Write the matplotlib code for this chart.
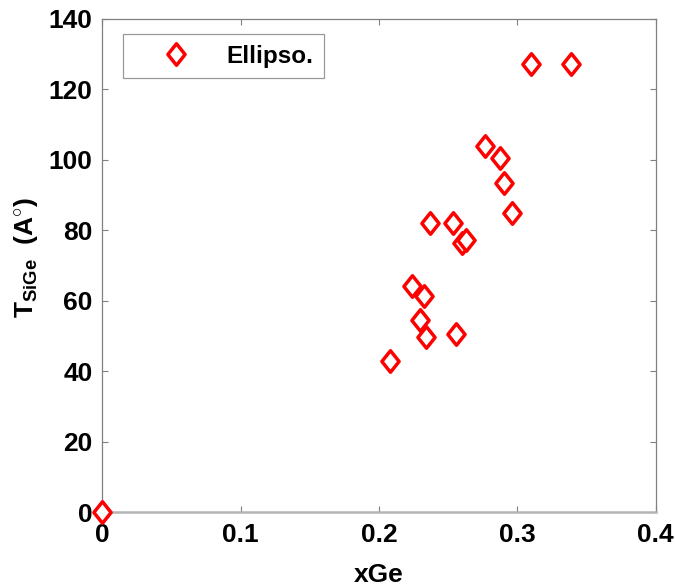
import matplotlib
matplotlib.use("Agg")
import matplotlib.pyplot as plt
from matplotlib.path import Path

plt.rcParams['font.family'] = ['Liberation Sans', 'DejaVu Sans']
plt.rcParams['mathtext.fontset'] = 'custom'
plt.rcParams['mathtext.rm'] = 'Liberation Sans:bold'
plt.rcParams['mathtext.default'] = 'rm'

# Ge fraction vs. SiGe layer thickness from ellipsometry
x_ge = [0.0, 0.2078, 0.2242, 0.2326, 0.2297, 0.2341, 0.2367, 0.2534, 0.2560,
        0.2599, 0.2630, 0.2769, 0.2878, 0.2907, 0.2962, 0.3100, 0.3391]
t_sige = [0.0, 42.9, 64.1, 61.4, 54.5, 49.6, 82.1, 82.2, 50.5,
          76.5, 77.2, 103.8, 100.6, 93.5, 84.9, 127.3, 127.3]

x_ticks = [0, 0.1, 0.2, 0.3, 0.4]
x_ticklabels = ['0', '0.1', '0.2', '0.3', '0.4']
y_ticks = [0, 20, 40, 60, 80, 100, 120, 140]

diamond = Path([(0, 1), (0.8, 0), (0, -1), (-0.8, 0), (0, 1)],
               [Path.MOVETO, Path.LINETO, Path.LINETO, Path.LINETO, Path.CLOSEPOLY])

fig = plt.figure(figsize=(6.75, 5.87), dpi=100)
ax = fig.add_axes([0.1516, 0.1273, 0.8196, 0.8407])

ax.plot(x_ge, t_sige, linestyle='none', marker=diamond, markersize=15.5,
        markerfacecolor='white', markeredgecolor='#ff0000', markeredgewidth=2.5,
        label='Ellipso.', clip_on=False, zorder=5)

ax.set_xlim(0, 0.4)
ax.set_ylim(0, 140)
ax.set_xticks(x_ticks)
ax.set_xticklabels(x_ticklabels)
ax.set_yticks(y_ticks)

for side in ['left', 'top', 'right']:
    ax.spines[side].set_color('#808080')
    ax.spines[side].set_linewidth(0.9)
ax.spines['bottom'].set_color('#b4b4b4')
ax.spines['bottom'].set_linewidth(1.8)

ax.tick_params(axis='both', direction='in', length=4, width=0.8, color='#808080',
               top=True, right=True, labelsize=19)
ax.tick_params(axis='x', pad=8)
ax.tick_params(axis='y', pad=7)
for lbl in ax.get_xticklabels() + ax.get_yticklabels():
    lbl.set_fontweight('bold')

ax.set_xlabel('xGe', fontsize=19, fontweight='bold', labelpad=11)
ax.set_ylabel(r'T$_{\mathrm{SiGe}}$  (A$^{\circ}$)', fontsize=19, fontweight='bold')
ax.yaxis.set_label_coords(-0.112, 0.517)

leg = ax.legend(loc='upper left', bbox_to_anchor=(0.037, 0.97),
                prop={'weight': 'bold', 'size': 17.5}, frameon=True, fancybox=False,
                borderpad=0.45, handlelength=3.5, handletextpad=0.3, borderaxespad=0,
                markerscale=1.0)
leg.get_frame().set_edgecolor('#808080')
leg.get_frame().set_linewidth(0.9)

fig.savefig('out.png', dpi=100)
